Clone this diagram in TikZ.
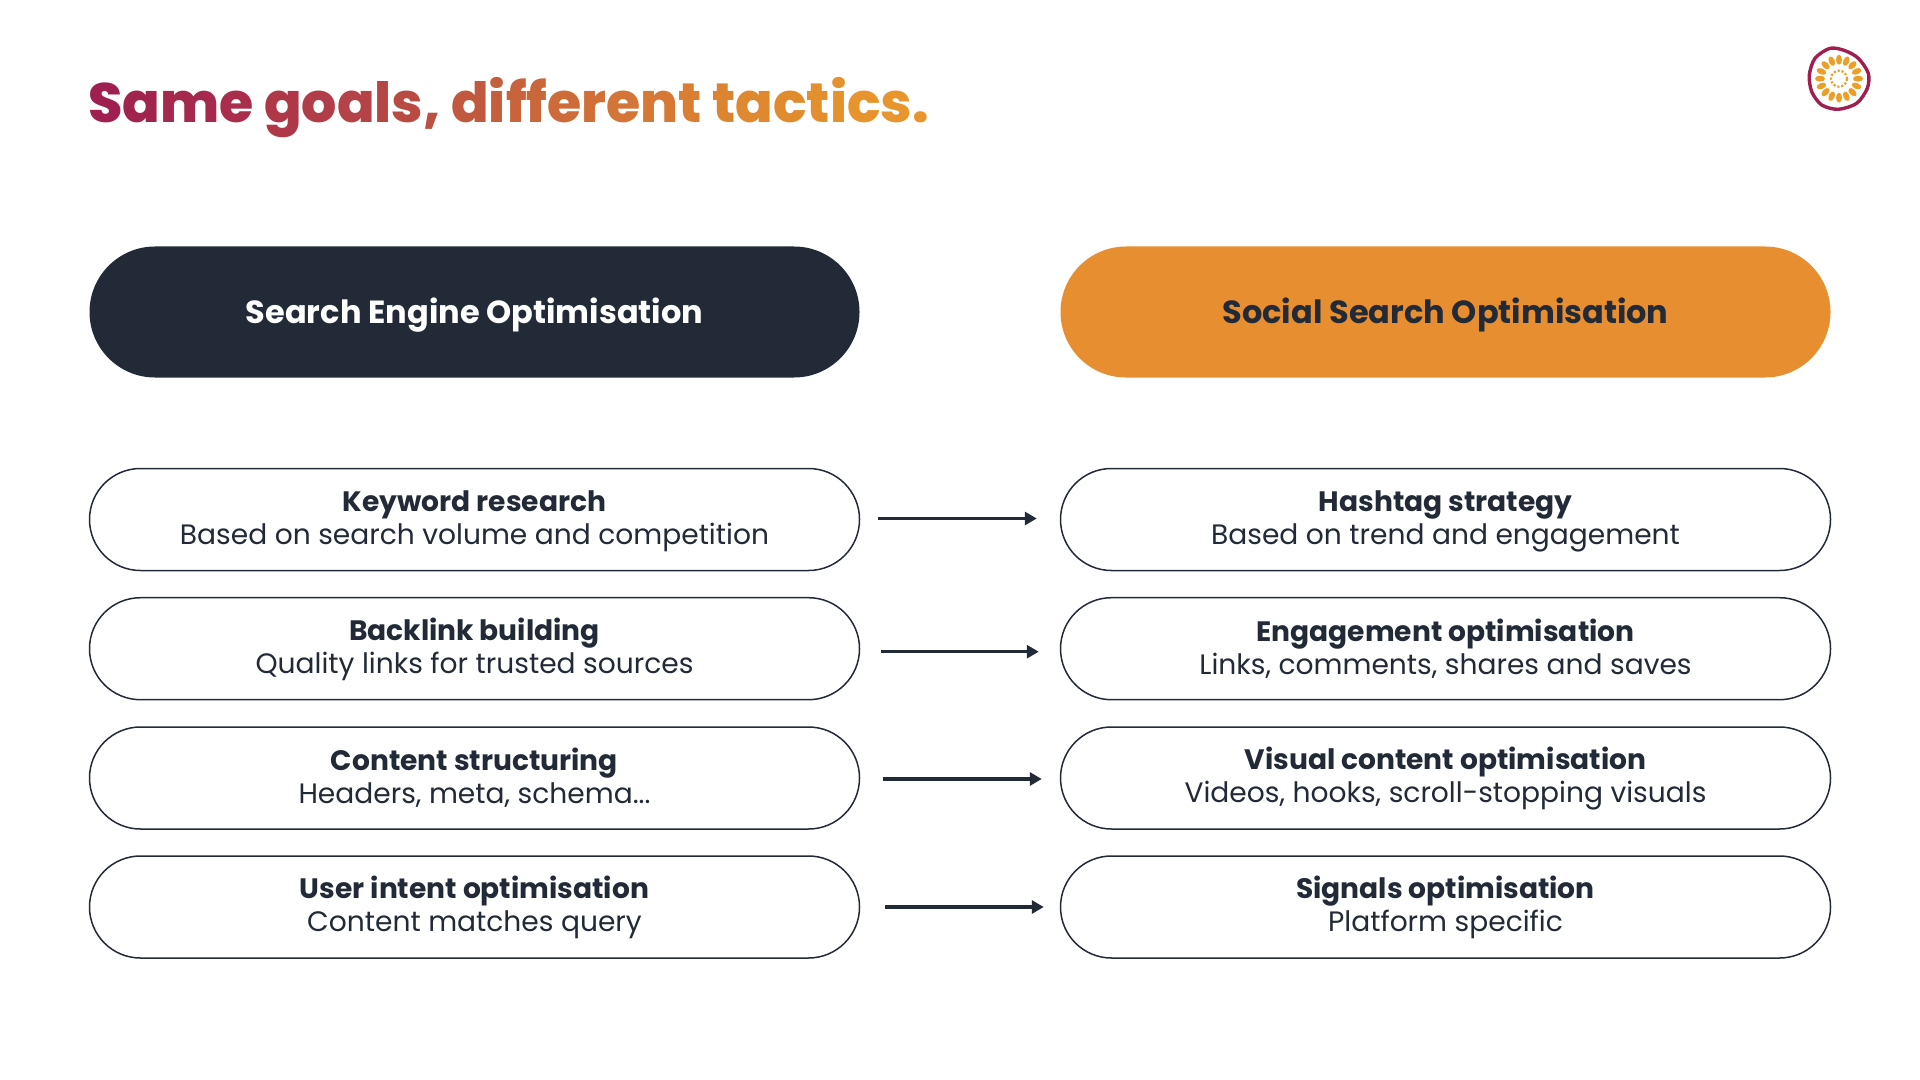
\documentclass[tikz,border=0pt]{standalone}
\usepackage{fontspec}
\setmainfont{Poppins}
\newfontfamily\titlefont{Poppins ExtraBold}
\usetikzlibrary{shapes.misc}
\usetikzlibrary{arrows.meta}
\definecolor{inkdark}{HTML}{212A36}
\definecolor{tacticsorange}{HTML}{E78F30}
\definecolor{titlestart}{HTML}{9E1F50}
\definecolor{titleend}{HTML}{E8962C}
\newcommand*{\gradX}[2]{\textcolor{titleend!#1!titlestart}{#2}}
\newcommand*{\flowX}[5]{%
  \draw [flow] ([xshift=#3,yshift=#5]#1.east) -- ([xshift=-#4,yshift=#5]#2.west);
}
\newcommand*{\rowX}[2]{\rule{0pt}{12pt}\textbf{#1}\\#2\rule[-3pt]{0pt}{3pt}}
\tikzset{
  pillbox/.style = {rounded rectangle, draw=inkdark, line width=0.75pt, fill=white,
                    minimum width=385pt, minimum height=51pt, inner sep=0pt,
                    align=center, text=inkdark,
                    font=\fontsize{14.05}{16.6}\selectfont},
  headbox/.style = {rounded rectangle, minimum width=385pt, minimum height=65.5pt,
                    inner sep=0pt, align=center, text height=14pt, text depth=2.5pt,
                    font=\bfseries\fontsize{16}{18}\selectfont},
  flow/.style = {draw=inkdark, line width=1.6pt, -{Triangle[length=6pt,width=6.5pt]}},
  logopetal/.style = {fill=titleend!90!yellow}
}
\begin{document}
\begin{tikzpicture}[x=0.5pt,y=-0.5pt]
\useasboundingbox (0,0) rectangle (1920,1080);

\node (title) [anchor=base west, inner sep=0pt, font=\titlefont\fontsize{27.7}{32}\selectfont] at (88,123) {%
\gradX{0}{S}\gradX{4}{a}\gradX{8}{m}\gradX{13}{e} \gradX{21}{g}\gradX{25}{o}\gradX{29}{a}\gradX{33}{l}\gradX{37}{s}\gradX{41}{,} %
\gradX{49}{d}\gradX{53}{i}\gradX{57}{f}\gradX{60}{f}\gradX{64}{e}\gradX{68}{r}\gradX{72}{e}\gradX{76}{n}\gradX{80}{t} %
\gradX{85}{t}\gradX{88}{a}\gradX{91}{c}\gradX{94}{t}\gradX{96}{i}\gradX{98}{c}\gradX{99}{s}\gradX{100}{.}};

% logo
\draw [titlestart, line width=1.7pt] plot [smooth cycle] coordinates {(1830,48.3) (1845,50.7) (1858.3,58.3) (1868.3,73.3) (1867.3,88.3) (1856.7,103.3) (1838.3,109.3) (1821.7,105) (1811.7,91.7) (1809.3,75) (1815,58.3)};
\foreach \a in {0,22.5,...,337.5}
  \fill [logopetal, shift={(1839,78.7)}, rotate=\a] (19,0) ellipse [x radius=5, y radius=3];
\draw [titleend!90!yellow, line width=1.1pt, dash pattern=on 1.1pt off 0.9pt] (1839,78.7) circle [radius=8];

\node (seo) [headbox, fill=inkdark, text=white] at (474.5,312) {Search Engine Optimisation};
\node (sso) [headbox, fill=tacticsorange, text=inkdark] at (1445.5,312) {Social Search Optimisation};

\node (keyword) [pillbox] at (474.5,519.5) {\rowX{Keyword research}{Based on search volume and competition}};
\node (backlink) [pillbox] at (474.5,648.7) {\rowX{Backlink building}{Quality links for trusted sources}};
\node (structure) [pillbox] at (474.5,778) {\rowX{Content structuring}{Headers, meta, schema...}};
\node (intent) [pillbox] at (474.5,907) {\rowX{User intent optimisation}{Content matches query}};

\node (hashtag) [pillbox] at (1445.5,519.5) {\rowX{Hashtag strategy}{Based on trend and engagement}};
\node (engage) [pillbox] at (1445.5,648.7) {\rowX{Engagement optimisation}{Links, comments, shares and saves}};
\node (visual) [pillbox] at (1445.5,778) {\rowX{Visual content optimisation}{Videos, hooks, scroll-stopping visuals}};
\node (signals) [pillbox] at (1445.5,907) {\rowX{Signals optimisation}{Platform specific}};

\flowX{keyword}{hashtag}{9pt}{11.5pt}{0.5pt}
\flowX{backlink}{engage}{10.5pt}{10.5pt}{-1.5pt}
\flowX{structure}{visual}{11.5pt}{9pt}{-0.5pt}
\flowX{intent}{signals}{12.5pt}{8pt}{0pt}
\end{tikzpicture}
\end{document}
